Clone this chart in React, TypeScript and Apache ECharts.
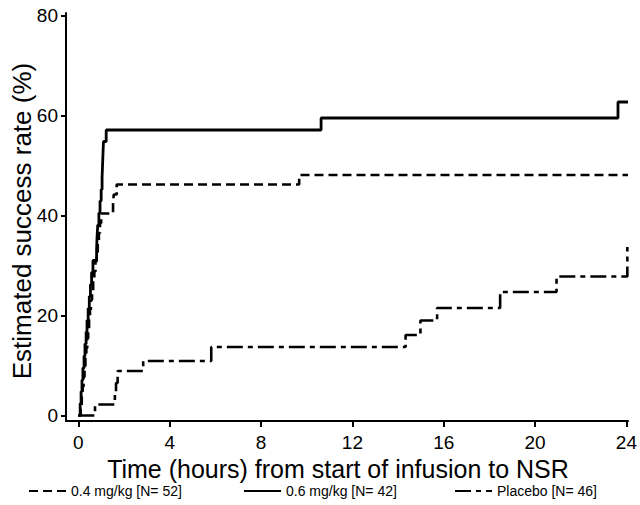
import React, { useEffect, useRef } from "react";
import * as echarts from "echarts";

const FONT = "'Liberation Sans', Arial, Helvetica, sans-serif";

const xTicks = [0, 4, 8, 12, 16, 20, 24];
const yTicks = [0, 20, 40, 60, 80];
const seriesNames = ["0.4 mg/kg [N= 52]", "0.6 mg/kg [N= 42]", "Placebo [N= 46]"];
const xTitle = "Time (hours) from start of infusion to NSR";
const yTitle = "Estimated success rate (%)";

// 0.4 mg/kg (dashed)
const dose04Times = [0, 0.1, 0.15, 0.19, 0.23, 0.27, 0.31, 0.35, 0.39, 0.43, 0.47, 0.51, 0.55, 0.6, 0.65, 0.7, 0.75, 0.8, 0.85, 0.9, 0.95, 1.0, 1.52, 1.55, 1.68, 9.67, 24.07];
const dose04Values = [0, 1.9, 3.8, 5.8, 7.7, 9.6, 11.5, 13.5, 15.4, 17.3, 19.2, 21.2, 23.1, 25.0, 26.9, 28.8, 30.8, 32.7, 34.6, 36.5, 38.5, 40.4, 42.3, 44.2, 46.2, 48.1, 48.1];

// 0.6 mg/kg (solid)
const dose06Times = [0, 0.08, 0.12, 0.16, 0.2, 0.25, 0.29, 0.34, 0.38, 0.43, 0.48, 0.53, 0.58, 0.64, 0.8, 0.82, 0.85, 0.9, 0.95, 1.0, 1.04, 1.06, 1.08, 1.1, 1.22, 10.63, 23.63, 24.07];
const dose06Values = [0, 2.4, 4.8, 7.1, 9.5, 11.9, 14.3, 16.7, 19.0, 21.4, 23.8, 26.2, 28.6, 31.0, 33.3, 35.7, 38.1, 40.5, 42.9, 45.2, 47.6, 50.0, 52.4, 54.8, 57.1, 59.5, 62.7, 62.7];

// Placebo (dash-dot)
const placeboTimes = [0, 0.73, 1.6, 1.65, 1.72, 2.84, 5.82, 14.33, 14.98, 15.71, 18.47, 20.94, 24.04];
const placeboValues = [0, 2.2, 4.3, 6.5, 8.9, 10.9, 13.7, 16.1, 19.0, 21.5, 24.7, 27.8, 33.7];

const pairs = (ts: number[], vs: number[]) => ts.map((t, i) => [t, vs[i]]);

export default function App() {
  const ref = useRef<HTMLDivElement>(null);
  useEffect(() => {
    if (!ref.current) return;
    const chart = echarts.init(ref.current, null, { renderer: "svg" });
    const lineSeries = (name: string, data: number[][], type: any, width: number, z: number) => ({
      name,
      type: "line",
      step: "end",
      data,
      symbol: "none",
      showSymbol: false,
      z,
      lineStyle: { color: "#000", width, type, cap: "butt" },
      itemStyle: { color: "#000" },
    });
    const legendBase = {
      top: 484,
      padding: 0,
      itemGap: 0,
      itemWidth: 37,
      itemHeight: 14,
      itemStyle: { opacity: 0 },
      textStyle: { fontSize: 14, color: "#000", fontFamily: FONT },
    };
    chart.setOption({
      animation: false,
      backgroundColor: "#fff",
      textStyle: { fontFamily: FONT },
      grid: { left: 66, right: 10, top: 13, bottom: 84, containLabel: false },
      xAxis: {
        type: "value",
        min: -0.54,
        max: 24.07,
        axisLine: { show: true, onZero: false, lineStyle: { color: "#000", width: 2 } },
        axisTick: { show: true, length: 6, customValues: xTicks, lineStyle: { color: "#000", width: 2 } },
        axisLabel: { customValues: xTicks, fontSize: 19, color: "#000", margin: 12, fontFamily: FONT },
        splitLine: { show: false },
      },
      yAxis: {
        type: "value",
        min: -1.1,
        max: 80.5,
        axisLine: { show: true, onZero: false, lineStyle: { color: "#000", width: 2 } },
        axisTick: { show: true, length: 5, customValues: yTicks, lineStyle: { color: "#000", width: 2 } },
        axisLabel: { customValues: yTicks, fontSize: 19, color: "#000", margin: 8, fontFamily: FONT },
        splitLine: { show: false },
      },
      legend: [
        { ...legendBase, left: 28, data: [seriesNames[0]] },
        { ...legendBase, left: 243, data: [seriesNames[1]] },
        { ...legendBase, left: 454, data: [seriesNames[2]] },
      ],
      graphic: [
        {
          type: "text",
          x: 338,
          y: 469,
          style: { text: xTitle, font: `25px ${FONT}`, fill: "#000", textAlign: "center", textVerticalAlign: "middle" },
        },
        {
          type: "text",
          x: 22,
          y: 221,
          rotation: Math.PI / 2,
          style: { text: yTitle, font: `26px ${FONT}`, fill: "#000", textAlign: "center", textVerticalAlign: "middle" },
        },
      ],
      series: [
        lineSeries(seriesNames[0], pairs(dose04Times, dose04Values), [9, 5], 2.6, 2),
        lineSeries(seriesNames[1], pairs(dose06Times, dose06Values), "solid", 2.8, 3),
        lineSeries(seriesNames[2], pairs(placeboTimes, placeboValues), [16, 5, 5, 5], 2.6, 1),
      ],
    });
    return () => chart.dispose();
  }, []);
  return <div ref={ref} style={{ position: "fixed", left: 0, top: 0, width: 640, height: 505 }} />;
}
